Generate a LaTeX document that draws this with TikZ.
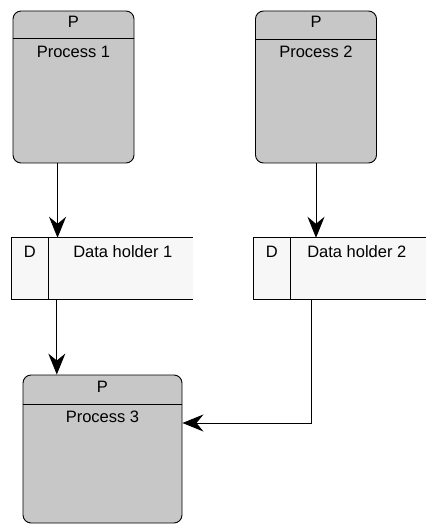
\documentclass[tikz,border=0pt]{standalone}
\usepackage{fontspec}
\setmainfont{Liberation Sans}
\usetikzlibrary{positioning, calc, arrows.meta}

\tikzset{
  procbox/.style={draw, rounded corners=8pt, fill=black!22, line width=0.9pt,
    minimum width=121pt, minimum height=152pt, inner sep=0pt},
  holdbox/.style={fill=black!3, minimum height=61pt, inner sep=0pt},
  tag/.style={font=\fontsize{16.5}{19}\selectfont, inner sep=1pt},
  flow/.style={-{Stealth[length=21pt, width=17pt, inset=7pt]}, line width=0.9pt},
}

\begin{document}
\begin{tikzpicture}[x=1pt, y=-1pt]
\useasboundingbox (0,0) rectangle (426,526);

% processes
\node[procbox] (proc1) at (73.5,87) {};
\node[procbox] (proc2) at (316,87) {};
\node[procbox, minimum width=159pt, minimum height=148pt] (proc3) at (102.5,449) {};

\draw[line width=0.9pt] ($(proc1.north west)+(0,28)$) -- ($(proc1.north east)+(0,28)$);
\draw[line width=0.9pt] ($(proc2.north west)+(0,29)$) -- ($(proc2.north east)+(0,29)$);
\draw[line width=0.9pt] ($(proc3.north west)+(0,30)$) -- ($(proc3.north east)+(0,30)$);

\node[tag] (p1) at ($(proc1.north)+(0,11)$) {P};
\node[tag] (p2) at ($(proc2.north)+(0,11)$) {P};
\node[tag] (p3) at ($(proc3.north)+(0,12)$) {P};
\node[tag] (name1) at ($(proc1.north)+(0,41)$) {Process 1};
\node[tag] (name2) at ($(proc2.north)+(0,41)$) {Process 2};
\node[tag] (name3) at ($(proc3.north)+(0,42)$) {Process 3};

% data holders, open on the right
\node[holdbox, minimum width=181pt] (holder1) at (102.5,268.5) {};
\node[holdbox, minimum width=172pt] (holder2) at (340,268.5) {};
\foreach \h in {holder1, holder2} {
  \draw[line width=0.9pt] (\h.north east) -- (\h.north west) -- (\h.south west) -- (\h.south east);
  \draw[line width=0.9pt] ($(\h.north west)+(37,0)$) -- ($(\h.south west)+(37,0)$);
}
\node[tag] (d1) at ($(holder1.north west)+(18,14)$) {D};
\node[tag] (d2) at ($(holder2.north west)+(18,14)$) {D};
\node[tag] (label1) at ($(holder1.north west)+(111,14)$) {Data holder 1};
\node[tag] (label2) at ($(holder2.north west)+(103,14)$) {Data holder 2};

% flows
\coordinate (drop1) at ($(proc1.south west)+(45,0)$);
\coordinate (drop2) at ($(holder1.south west)+(45,0)$);
\coordinate (drop3) at ($(holder2.south west)+(58,0)$);
\draw[flow] (drop1) -- (drop1 |- holder1.north);
\draw[flow] (proc2.south) -- (proc2.south |- holder2.north);
\draw[flow] (drop2) -- (drop2 |- proc3.north);
\draw[flow] (drop3) |- ($(proc3.east)+(0,-26)$);
\end{tikzpicture}
\end{document}
